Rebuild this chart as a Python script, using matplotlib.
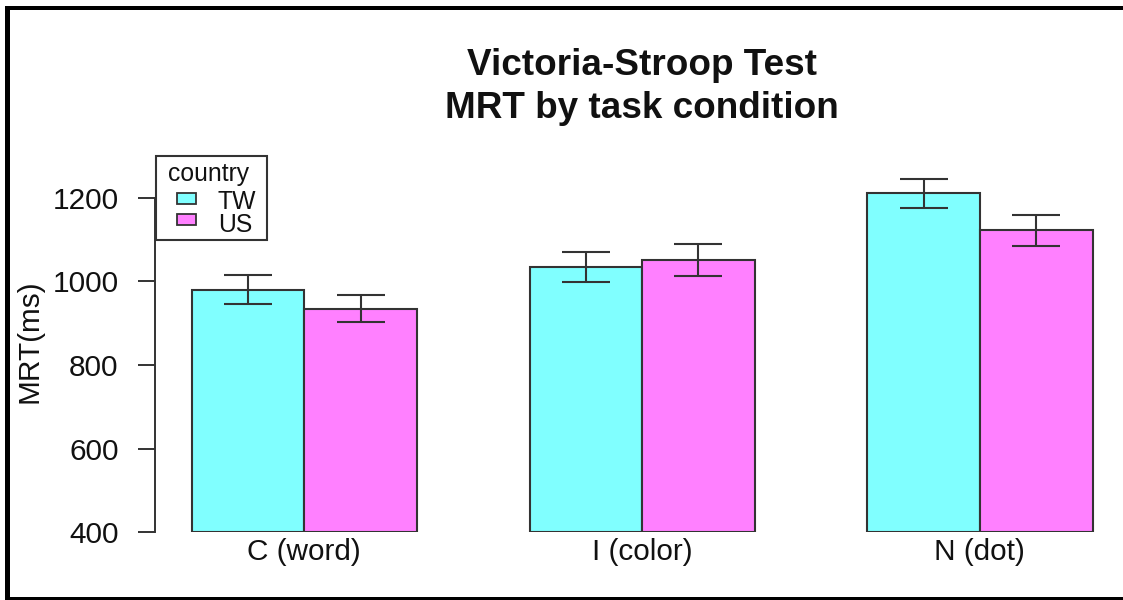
import matplotlib
matplotlib.use("Agg")
import matplotlib.pyplot as plt
from matplotlib.patches import Rectangle

# ---- data ----
conditions = ["C (word)", "I (color)", "N (dot)"]
countries = ["TW", "US"]
mrt_tw = [980, 1035, 1210]
mrt_us = [934, 1051, 1122]
err_tw = [35, 36, 34]
err_us = [32, 39, 37]
yticks = [400, 600, 800, 1000, 1200]
colors = ["#80FFFF", "#FF80FF"]

W, H = 1123, 600
plt.rcParams["font.family"] = ["Liberation Sans", "DejaVu Sans"]
fig = plt.figure(figsize=(W / 100, H / 100), dpi=100)

def fx(px):
    return px / W

def fy(py):
    return 1 - py / H

# axes placement (pixel coords from top-left)
ax_l, ax_r, ax_t, ax_b = 155.0, 1123.0, 155.7, 532.3
ax = fig.add_axes([fx(ax_l), fy(ax_b), fx(ax_r - ax_l), (ax_b - ax_t) / H])

unit = 112.6
left_data = 1 + (ax_l - 191.7) / unit
right_data = 1 + (ax_r - 191.7) / unit
ax.set_xlim(left_data, right_data)
ax.set_ylim(400, 1300)

edge = "#333333"
for i, cond in enumerate(conditions):
    base = 1 + 3 * i
    for j, (vals, errs) in enumerate([(mrt_tw, err_tw), (mrt_us, err_us)]):
        xc = base + 0.5 + j
        ax.bar(xc, vals[i] - 400, bottom=400, width=1.0, color=colors[j],
               edgecolor=edge, linewidth=1.5, zorder=2)
        ax.errorbar(xc, vals[i], yerr=errs[i], fmt="none", ecolor=edge,
                    elinewidth=1.5, capsize=17, capthick=1.5, zorder=3)

group_centers = [2 + 3 * i for i in range(len(conditions))]
ax.set_xticks(group_centers)
ax.set_xticklabels(conditions, fontsize=21.4, color="#111111")
ax.tick_params(axis="x", length=0, pad=4)

ax.set_yticks(yticks)
ax.set_yticklabels([str(v) for v in yticks], fontsize=21.4, color="#111111")
ax.tick_params(axis="y", length=12.2, width=1.4, pad=14, color=edge, direction="out")

for s in ["top", "right", "bottom"]:
    ax.spines[s].set_visible(False)
ax.spines["left"].set_bounds(400, 1200)
ax.spines["left"].set_linewidth(1.4)
ax.spines["left"].set_color(edge)
ax.patch.set_alpha(0)

# y label
fig.text(fx(30), fy(341), "MRT(ms)", rotation=90, fontsize=21.4,
         ha="center", va="center", color="#111111")

# title
fig.text(fx(641.5), fy(75), "Victoria-Stroop Test", fontsize=26.6,
         fontweight="bold", ha="center", va="baseline", color="#111111")
fig.text(fx(641.5), fy(118), "MRT by task condition", fontsize=26.6,
         fontweight="bold", ha="center", va="baseline", color="#111111")

# legend (manual, R style)
lg_l, lg_r, lg_t, lg_b = 155.7, 266.7, 155.7, 240.0
fig.add_artist(Rectangle((fx(lg_l), fy(lg_b)), fx(lg_r - lg_l), (lg_b - lg_t) / H,
                         transform=fig.transFigure, facecolor="white",
                         edgecolor=edge, linewidth=1.5, zorder=5))
fig.text(fx(209), fy(172), "country", fontsize=17.8, ha="center",
         va="center_baseline", color="#111111", zorder=6)
legend_rows = [(193, 204, 200), (214, 225, 222)]
for (t0, t1, tc), lab, col in zip(legend_rows, countries, colors):
    fig.add_artist(Rectangle((fx(177), fy(t1)), fx(19), (t1 - t0) / H,
                             transform=fig.transFigure, facecolor=col,
                             edgecolor=edge, linewidth=1.3, zorder=6))
    fig.text(fx(218), fy(tc), lab, fontsize=17.8, ha="left",
             va="center_baseline", color="#111111", zorder=6)

# outer frame (black border at left, top, bottom)
for (x0, y0, x1, y1) in [(5, 6, 10, 600), (5, 6, 1123, 10), (5, 597, 1123, 600)]:
    fig.add_artist(Rectangle((fx(x0), fy(y1)), fx(x1 - x0), (y1 - y0) / H,
                             transform=fig.transFigure, facecolor="black",
                             edgecolor="none", zorder=10))

fig.savefig("out.png", dpi=100)
